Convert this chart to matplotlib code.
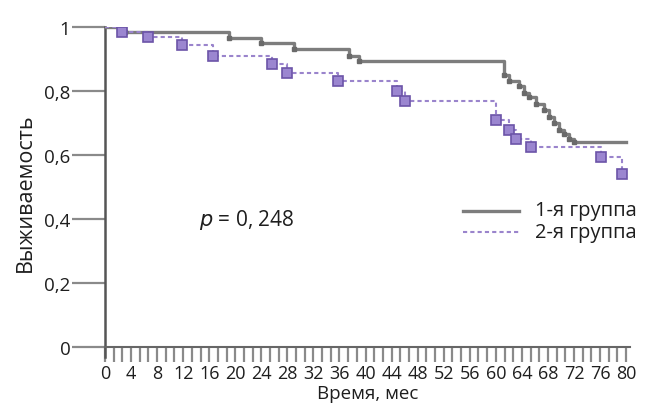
import matplotlib
matplotlib.use("Agg")
import matplotlib.pyplot as plt
import numpy as np
from matplotlib.ticker import MultipleLocator, FixedLocator

plt.rcParams['font.family'] = ['Open Sans', 'DejaVu Sans']

# группа 1: моменты событий и выживаемость после них
t1 = [0, 3, 19, 24, 29, 37.5, 39, 61.3, 62.1, 63.6, 64.4, 65.1, 66.2, 67.4,
      68.2, 69.0, 69.7, 70.5, 71.3, 72.0]
s1 = [1.0, 0.985, 0.966, 0.95, 0.931, 0.91, 0.894, 0.85, 0.83, 0.815, 0.795,
      0.78, 0.76, 0.74, 0.72, 0.70, 0.68, 0.665, 0.65, 0.64]
t1_end = 80

# группа 2
t2 = [0, 2.6, 6.6, 11.8, 16.6, 25.6, 27.9, 35.7, 44.9, 46.0, 60.1, 62.1,
      63.1, 65.4, 76.2, 79.4]
s2 = [1.0, 0.985, 0.97, 0.945, 0.91, 0.885, 0.855, 0.83, 0.80, 0.77, 0.71,
      0.68, 0.65, 0.625, 0.595, 0.54]

x_labels = list(range(0, 81, 4))
y_ticks = [0, 0.2, 0.4, 0.6, 0.8, 1]
y_labels = ['0', '0,2', '0,4', '0,6', '0,8', '1']

fig = plt.figure(figsize=(6.5, 4.06), dpi=100)
ax = fig.add_axes([105/650, 1-358/406, 525/650, 330/406])

ax.step(t1 + [t1_end], s1 + [s1[-1]], where='post', color='#7d7d7d', lw=2.4,
        zorder=3)
ax.plot(t1[1:], s1[1:], 's', ms=3, color='#6a6a6a', zorder=3)

ax.step(t2, s2, where='post', color='#9a84cc', lw=1.5, ls=(0, (2, 1.5)),
        zorder=4)
ax.plot(t2[1:], s2[1:], 's', ms=6.5, mfc='#9b86d0', mec='#6c54a8', mew=1.2,
        zorder=5)

ax.set_xlim(0, 80.6)
ax.set_ylim(-0.03, 1.0)

for sp in ['top', 'right']:
    ax.spines[sp].set_visible(False)
ax.spines['bottom'].set_position(('data', 0))
ax.spines['bottom'].set_color('#666666')
ax.spines['left'].set_color('#555555')
ax.spines['bottom'].set_linewidth(1.5)
ax.spines['left'].set_linewidth(1.8)

ax.xaxis.set_major_locator(FixedLocator(x_labels))
ax.xaxis.set_minor_locator(MultipleLocator(4/3))
ax.set_xticklabels([str(v) for v in x_labels])
ax.tick_params(axis='x', which='both', direction='out', length=11, width=1.6,
               color='#8a8a8a', labelsize=13, pad=1, labelcolor='#1e1e1e')

ax.set_yticks(y_ticks)
ax.set_yticklabels(y_labels)
ax.tick_params(axis='y', direction='out', length=24, width=1.6,
               color='#8a8a8a', labelsize=13.5, pad=1, labelcolor='#1e1e1e')

ax.set_xlabel('Время, мес', fontsize=13.5, color='#1e1e1e', va='center')
ax.xaxis.set_label_coords(0.5, -0.11)
ax.set_ylabel('Выживаемость', fontsize=15.5, labelpad=6, color='#1e1e1e')

ax.text(14.5, 0.40, '$\\it{p}$ = 0, 248', fontsize=15, va='center',
        color='#1e1e1e')

# легенда
ax.plot([55, 63.5], [0.425, 0.425], color='#7d7d7d', lw=2.4)
ax.plot([55, 63.5], [0.36, 0.36], color='#9a84cc', lw=1.5, ls=(0, (2, 1.5)))
ax.text(66, 0.43, '1-я группа', fontsize=14.5, va='center', color='#1e1e1e')
ax.text(66, 0.36, '2-я группа', fontsize=14.5, va='center', color='#1e1e1e')

fig.savefig('out.png', dpi=100)
